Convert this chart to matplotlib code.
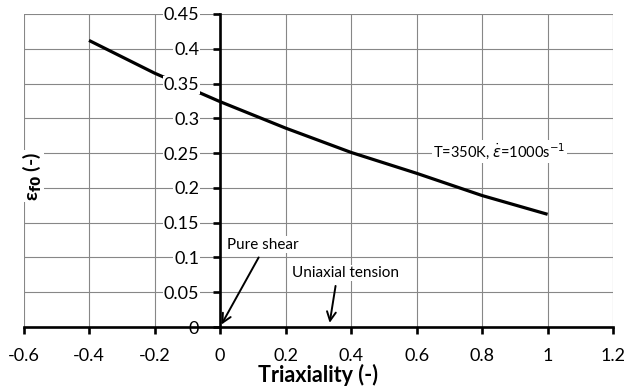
"""Triaxiality vs failure strain chart"""
import matplotlib
matplotlib.use("Agg")
import matplotlib.pyplot as plt

plt.rcParams['font.family'] = ['Lato', 'DejaVu Sans']
plt.rcParams['mathtext.fontset'] = 'dejavusans'

# 読み取ったデータ
triaxiality = [-0.4, -0.2, 0.0, 0.2, 0.4, 0.6, 0.8, 1.0]
eps_f0 = [0.412, 0.365, 0.324, 0.286, 0.251, 0.221, 0.189, 0.162]

x_ticks = [-0.6, -0.4, -0.2, 0, 0.2, 0.4, 0.6, 0.8, 1, 1.2]
x_labels = ['-0.6', '-0.4', '-0.2', '0', '0.2', '0.4', '0.6', '0.8', '1', '1.2']
y_ticks = [0, 0.05, 0.1, 0.15, 0.2, 0.25, 0.3, 0.35, 0.4, 0.45]
y_labels = ['0', '0.05', '0.1', '0.15', '0.2', '0.25', '0.3', '0.35', '0.4', '0.45']

curve_label = r'T=350K, $\dot{\varepsilon}$=1000s$^{-1}$'
shear_label = 'Pure shear'
shear_xy = (0, 0)
shear_text = (0.122, 0.1035)
tension_label = 'Uniaxial tension'
tension_xy = (1 / 3, 0.002)
tension_text = (0.354, 0.063)

fig = plt.figure(figsize=(6.25, 3.92), dpi=100)
ax = fig.add_axes([0.0376, 0.1658, 0.9434, 0.7985])
ax.set_axisbelow(False)

grid_kw = dict(color='#878787', lw=0.8, zorder=0.5)
for xv in x_ticks:
    ax.axvline(xv, **grid_kw)
for yv in y_ticks:
    ax.axhline(yv, **grid_kw)

ax.plot(triaxiality, eps_f0, color='black', lw=2.3, zorder=2, solid_capstyle='butt')

ax.set_xlim(-0.6, 1.2)
ax.set_ylim(0, 0.45)
ax.set_xticks(x_ticks)
ax.set_xticklabels(x_labels)
ax.set_yticks(y_ticks)
ax.set_yticklabels(y_labels)

ax.spines['left'].set_position(('data', 0))
ax.spines['top'].set_visible(False)
ax.spines['right'].set_visible(False)
for s in ['left', 'bottom']:
    ax.spines[s].set_linewidth(1.9)
    ax.spines[s].set_zorder(3)

ax.tick_params(axis='x', direction='out', length=5, width=1.9, pad=10, labelsize=13)
ax.tick_params(axis='y', direction='out', length=5, width=1.9, pad=10, labelsize=13)
for lab in ax.get_yticklabels():
    lab.set_bbox(dict(facecolor='white', edgecolor='none', pad=0.5))

ax.set_xlabel('Triaxiality (-)', fontsize=15.5, fontweight='bold', labelpad=0)
fig.text(0.05, 0.551, r'ε$_{\mathbf{f0}}$ (-)', rotation=90, fontsize=14, fontweight='bold',
         ha='center', va='center',
         bbox=dict(facecolor='white', edgecolor='none', pad=1))

ax.text(0.65, 0.2525, curve_label, fontsize=10.5, ha='left', va='center',
        bbox=dict(facecolor='white', edgecolor='none', pad=1), zorder=4)

arrow_kw = dict(arrowstyle='->', color='black', lw=1.4, mutation_scale=16)
ax.annotate('', xy=shear_xy, xytext=shear_text, arrowprops=arrow_kw, zorder=4)
ax.text(0.02, 0.1185, shear_label, fontsize=11, ha='left', va='center',
        bbox=dict(facecolor='white', edgecolor='none', pad=1), zorder=4)
ax.annotate('', xy=tension_xy, xytext=tension_text, arrowprops=arrow_kw, zorder=4)
ax.text(0.22, 0.0775, tension_label, fontsize=11, ha='left', va='center',
        bbox=dict(facecolor='white', edgecolor='none', pad=1), zorder=4)

fig.savefig('out.png', dpi=100)
